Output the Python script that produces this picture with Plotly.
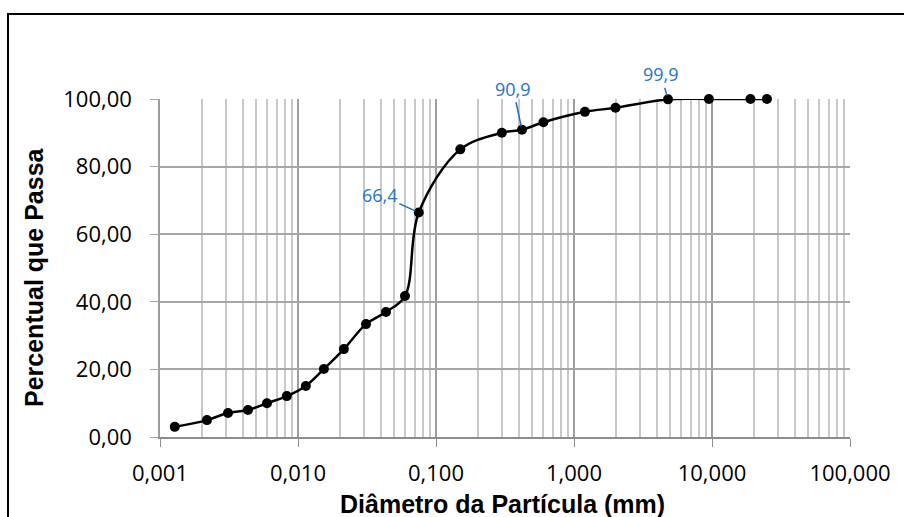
import math
import plotly.graph_objects as go

# ---- data ----
diameter_mm = [0.00128, 0.00219, 0.00311, 0.00434, 0.00596, 0.0083, 0.0114, 0.0154,
               0.0215, 0.0311, 0.0434, 0.0596, 0.075, 0.15, 0.30, 0.42, 0.60, 1.2,
               2.0, 4.8, 9.5, 19.0, 25.0]
percent_passing = [3.0, 5.0, 7.1, 8.0, 10.0, 12.1, 15.1, 20.1, 26.0, 33.4, 37.0, 41.7,
                   66.4, 85.1, 90.0, 90.9, 93.1, 96.2, 97.4, 99.9, 100.0, 100.0, 100.0]

x_tick_vals = [0.001, 0.01, 0.1, 1, 10, 100]
x_tick_text = ["0,001", "0,010", "0,100", "1,000", "10,000", "100,000"]
y_tick_vals = [0, 20, 40, 60, 80, 100]

labels_x = [0.075, 0.42, 4.8]
labels_y = [66.4, 90.9, 99.9]
labels_text = ["66,4", "90,9", "99,9"]
labels_offset = [(-39, -18), (-9, -41), (-7, -25)]

x_title = "Diâmetro da Partícula (mm)"
y_title = "Percentual que Passa"

# ---- layout constants ----
W, H = 904, 517
L, R, T, B = 160, 54, 99, 80
PW, PH = W - L - R, H - T - B

minor_vals = [m * 10 ** e for e in range(-3, 2) for m in range(2, 10)]

fig = go.Figure()
fig.add_trace(go.Scatter(
    x=diameter_mm, y=percent_passing, mode="lines+markers",
    line=dict(color="black", width=2.5, shape="spline", smoothing=1.0),
    marker=dict(color="black", size=10),
    showlegend=False, hoverinfo="x+y", cliponaxis=False,
))

for xv, yv, txt, (ax, ay) in zip(labels_x, labels_y, labels_text, labels_offset):
    fig.add_annotation(
        x=math.log10(xv), y=yv, xref="x", yref="y", text=txt, showarrow=True,
        arrowhead=0, arrowwidth=1.5, arrowcolor="#1F6FB8", standoff=4,
        ax=ax, ay=ay, font=dict(family="Open Sans", size=18, color="#1C75C8"),
    )

def px_x(p):
    return (p - L) / PW

def px_y(p):
    return (H - B - p) / PH

fig.add_annotation(x=px_x(502), y=px_y(504), xref="paper", yref="paper",
                   xanchor="center", yanchor="middle",
                   text=f"<b>{x_title}</b>", showarrow=False,
                   font=dict(family="Liberation Sans", size=25, color="black"))
fig.add_annotation(x=px_x(34), y=px_y(277), xref="paper", yref="paper",
                   xanchor="center", yanchor="middle",
                   text=f"<b>{y_title}</b>", showarrow=False, textangle=-90,
                   font=dict(family="Liberation Sans", size=25, color="black"))

# outer chart frame (left and top edges visible)
fig.add_shape(type="rect", xref="paper", yref="paper",
              x0=px_x(8), y0=px_y(H + 20), x1=px_x(W + 20), y1=px_y(14),
              line=dict(color="black", width=2), layer="above")

fig.update_layout(
    width=W, height=H, margin=dict(l=L, r=R, t=T, b=B, autoexpand=False),
    paper_bgcolor="white", plot_bgcolor="white",
    separators=",.",
    font=dict(family="Open Sans", size=22, color="black"),
)
fig.update_xaxes(
    type="log", range=[-3, 2], tickmode="array", tickvals=x_tick_vals, ticktext=x_tick_text,
    showgrid=True, gridcolor="#9e9e9e", gridwidth=1.5,
    ticks="outside", ticklen=8, tickcolor="#8c8c8c", ticklabelstandoff=8,
    showline=True, linecolor="#8c8c8c", linewidth=1.5,
    minor=dict(tickmode="array", tickvals=minor_vals, showgrid=True,
               gridcolor="#c8c8c8", gridwidth=1.5, ticks=""),
    tickfont=dict(family="Open Sans", size=22), automargin=False, zeroline=False,
)
fig.update_yaxes(
    range=[0, 100], tickmode="array", tickvals=y_tick_vals, tickformat=".2f",
    showgrid=True, gridcolor="#a6a6a6", gridwidth=1.5,
    ticks="outside", ticklen=8, tickcolor="#a6a6a6", ticklabelstandoff=14,
    showline=True, linecolor="#9e9e9e", linewidth=1.5, zeroline=False,
    tickfont=dict(family="Open Sans", size=22), automargin=False,
)

fig.write_html("out.html")
